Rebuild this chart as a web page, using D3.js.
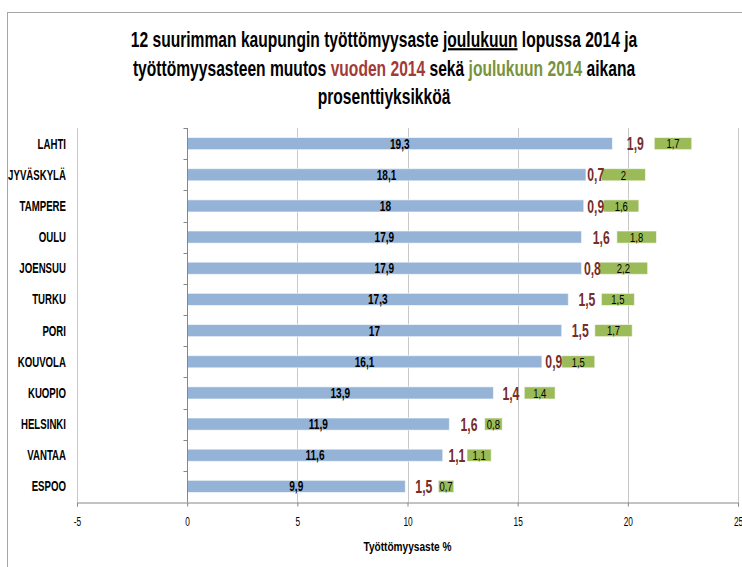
<!DOCTYPE html>
<html>
<head>
<meta charset="utf-8">
<script src="https://cdn.jsdelivr.net/npm/d3@7"></script>
<style>
  body { margin: 0; background: #fff; }
  text { font-family: "Liberation Sans", Arial, sans-serif; }
</style>
</head>
<body>
<script>
// chart data
var cities = ["LAHTI", "JYVÄSKYLÄ", "TAMPERE", "OULU", "JOENSUU", "TURKU", "PORI",
              "KOUVOLA", "KUOPIO", "HELSINKI", "VANTAA", "ESPOO"];
var rate = [19.3, 18.1, 18, 17.9, 17.9, 17.3, 17, 16.1, 13.9, 11.9, 11.6, 9.9];
var yearChange = [1.9, 0.7, 0.9, 1.6, 0.8, 1.5, 1.5, 0.9, 1.4, 1.6, 1.1, 1.5];
var decChange = [1.7, 2, 1.6, 1.8, 2.2, 1.5, 1.7, 1.5, 1.4, 0.8, 1.1, 0.7];
var xTicks = [-5, 0, 5, 10, 15, 20, 25];

var W = 742, H = 567;
var margin = {top: 128, right: 4, bottom: 65, left: 77},
    width = W - margin.left - margin.right,
    height = H - margin.top - margin.bottom;

var fmt = function(v) { return String(v).replace(".", ","); };

// narrow text: the original uses condensed fonts, so squeeze horizontally
function place(x, y, s) {
  return "translate(" + x + "," + y + ") scale(" + s + ",1)";
}

var svg = d3.select("body").append("svg")
    .attr("width", W)
    .attr("height", H);

// outer frame
svg.append("rect")
    .attr("x", 7.5).attr("y", 12.5)
    .attr("width", 800).attr("height", 700)
    .attr("fill", "none")
    .attr("stroke", "#a6a6a6");

// title
var titleLines = [47, 76, 104];
var tg = svg.selectAll(".title")
    .data(titleLines)
    .enter().append("g")
    .attr("transform", function(d) { return place(384, d, 0.71); })
    .append("text")
    .attr("text-anchor", "middle")
    .attr("font-weight", "bold")
    .attr("font-size", 22)
    .attr("fill", "#000");
var t1 = d3.select(tg.nodes()[0]);
t1.append("tspan").text("12 suurimman kaupungin työttömyysaste ");
t1.append("tspan").attr("text-decoration", "underline").text("joulukuun");
t1.append("tspan").text(" lopussa 2014 ja");
var t2 = d3.select(tg.nodes()[1]);
t2.append("tspan").text("työttömyysasteen muutos ");
t2.append("tspan").attr("fill", "#a33a37").text("vuoden 2014");
t2.append("tspan").text(" sekä ");
t2.append("tspan").attr("fill", "#77933c").text("joulukuun 2014");
t2.append("tspan").text(" aikana");
d3.select(tg.nodes()[2]).text("prosenttiyksikköä");

var g = svg.append("g")
    .attr("transform", "translate(" + margin.left + "," + margin.top + ")");

var x = d3.scaleLinear().domain([-5, 25]).range([0, width]);
var y = d3.scaleBand().domain(cities).range([0, height]).paddingInner(0.61).paddingOuter(0.305);
var yTicks = d3.scaleBand().domain(cities).range([0, height]);

// vertical gridlines
g.selectAll(".grid")
    .data(xTicks.filter(function(d) { return d !== 0; }))
    .enter().append("line")
    .attr("x1", function(d) { return Math.round(x(d)) + 0.5; })
    .attr("x2", function(d) { return Math.round(x(d)) + 0.5; })
    .attr("y1", 0).attr("y2", height)
    .attr("stroke", "#c8c8c8");

// stacked segments: rate, year change (invisible), december change
var rows = cities.map(function(c, i) {
  return {city: c, rate: rate[i], year: yearChange[i], dec: decChange[i]};
});
var stack = d3.stack().keys(["rate", "year", "dec"])(rows);
var fills = {rate: "#95b3d7", year: "none", dec: "#9bbb59"};

stack.forEach(function(layer) {
  if (layer.key === "year") return;
  g.selectAll(".bar-" + layer.key)
      .data(layer)
      .enter().append("rect")
      .attr("x", function(d) { return x(d[0]); })
      .attr("width", function(d) { return x(d[1]) - x(d[0]); })
      .attr("y", function(d) { return y(d.data.city); })
      .attr("height", y.bandwidth())
      .attr("fill", fills[layer.key])
      .attr("stroke", "#fff")
      .attr("stroke-opacity", 0.6)
      .attr("stroke-width", 1);
});

// labels
var labelStyle = {
  rate: {size: 14, weight: "bold", color: "#000", sx: 0.72, off: 0},
  year: {size: 18.5, weight: "bold", color: "#772c2a", sx: 0.66, off: 2},
  dec: {size: 13.5, weight: "normal", color: "#000", sx: 0.7, off: 0}
};
stack.forEach(function(layer) {
  var s = labelStyle[layer.key];
  g.selectAll(".lab-" + layer.key)
      .data(layer)
      .enter().append("g")
      .attr("transform", function(d) {
        return place(x((d[0] + d[1]) / 2) + s.off, y(d.data.city) + y.bandwidth() / 2, s.sx);
      })
      .append("text")
      .attr("dy", "0.36em")
      .attr("text-anchor", "middle")
      .attr("font-size", s.size)
      .attr("font-weight", s.weight)
      .attr("fill", s.color)
      .text(function(d) { return fmt(d.data[layer.key]); });
});

// y axis at value 0
var yAxis = g.append("g")
    .attr("transform", "translate(" + (Math.round(x(0)) + 0.5) + ",0)");
yAxis.append("line")
    .attr("y1", 0).attr("y2", height)
    .attr("stroke", "#868686");
yAxis.selectAll(".ytick")
    .data(cities)
    .enter().append("line")
    .attr("x1", -4).attr("x2", 0)
    .attr("y1", function(d) { return Math.round(yTicks(d)) + 0.5; })
    .attr("y2", function(d) { return Math.round(yTicks(d)) + 0.5; })
    .attr("stroke", "#868686");

// category labels
g.selectAll(".cat")
    .data(cities)
    .enter().append("g")
    .attr("transform", function(d) { return place(-11, y(d) + y.bandwidth() / 2, 0.69); })
    .append("text")
    .attr("dy", "0.36em")
    .attr("text-anchor", "end")
    .attr("font-size", 14)
    .attr("font-weight", "bold")
    .attr("fill", "#000")
    .text(function(d) { return d; });

// x axis
var xAxis = g.append("g")
    .attr("transform", "translate(0," + (height + 0.5) + ")")
    .call(d3.axisBottom(x).tickValues(xTicks).tickSize(4).tickPadding(10)
      .tickFormat(function(d) { return fmt(d); }));
xAxis.select(".domain").attr("stroke", "#868686");
xAxis.selectAll(".tick line").attr("stroke", "#868686");
xAxis.selectAll(".tick text")
    .attr("font-size", 13)
    .attr("font-family", "Liberation Sans, Arial, sans-serif")
    .attr("transform", "scale(0.64,1)")
    .attr("fill", "#000");

// axis title
g.append("g")
    .attr("transform", place(width / 2, height + 49, 0.75))
    .append("text")
    .attr("text-anchor", "middle")
    .attr("font-size", 13.5)
    .attr("font-weight", "bold")
    .attr("fill", "#000")
    .text("Työttömyysaste %");
</script>
</body>
</html>
